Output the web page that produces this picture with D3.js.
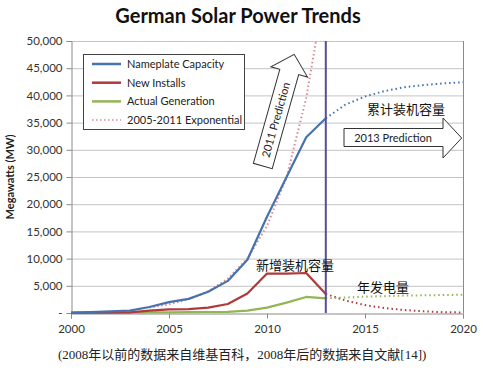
<!DOCTYPE html>
<html><head><meta charset="utf-8">
<script src="https://cdn.jsdelivr.net/npm/d3@7"></script>
<style>
html,body{margin:0;padding:0;background:#fff;}
svg text{font-family:Lato,"Open Sans",sans-serif;}
</style></head>
<body><svg id="c" width="483" height="382"></svg>
<script>
// ---- data ----
const years = [2000,2001,2002,2003,2004,2005,2006,2007,2008,2009,2010,2011,2012,2013];
const capacity = [80,180,290,430,1100,2000,2600,3900,5900,9800,17700,25000,32300,35800];
const newInstalls = [40,80,80,120,450,650,700,1000,1650,3600,7250,7250,7350,3500];
const generation = [20,30,50,70,100,120,150,180,200,450,1000,1900,2950,2700];
const projYears = [2013,2014,2015,2016,2017,2018,2019,2020];
const capacityProj = [35800,38300,39800,40800,41500,41900,42200,42400];
const installsProj = [3500,2300,1450,900,550,300,150,100];
const generationProj = [2700,2850,3000,3100,3200,3250,3300,3350];
const expYears = [2004,2005,2006,2007,2008,2009,2010,2011,2012,2012.5];
const expValues = [1000,1600,2500,4000,6300,10000,16000,25000,39500,50000];
const xTicks = [2000,2005,2010,2015,2020];
const yTicks = [0,5000,10000,15000,20000,25000,30000,35000,40000,45000,50000];
const legendLabels = ["Nameplate Capacity","New Installs","Actual Generation","2005-2011 Exponential"];
const markerYear = 2013;

const C = {blue:"#4672ad", red:"#b03a3a", green:"#93b556", pink:"#d98a95", purple:"#5a4c95"};

const svg = d3.select("#c");
const L=71, R=463, T=41, B=313;
const x = d3.scaleLinear().domain([2000,2020]).range([L,R]);
const y = d3.scaleLinear().domain([0,50000]).range([B,T]);

// title
svg.append("text").attr("x",238).attr("y",23).attr("text-anchor","middle")
  .attr("font-size",20).attr("font-weight","bold").attr("fill","#111").text("German Solar Power Trends");

// gridlines
svg.append("g").selectAll("line").data(yTicks.slice(1)).join("line")
  .attr("x1",L).attr("x2",R).attr("y1",d=>y(d)+0.5).attr("y2",d=>y(d)+0.5)
  .attr("stroke","#c4c4c4").attr("stroke-width",1);
// right border
svg.append("line").attr("x1",R+0.5).attr("x2",R+0.5).attr("y1",T).attr("y2",B)
  .attr("stroke","#8a8a8a");

// y axis
const fmt = d3.format(",");
const ya = svg.append("g").attr("transform",`translate(${L+0.5},0)`)
  .call(d3.axisLeft(y).tickValues(yTicks).tickSize(5).tickPadding(4).tickFormat(d=>d===0?"-":fmt(d)));
ya.select(".domain").attr("stroke","#8a8a8a");
ya.selectAll(".tick line").attr("stroke","#8a8a8a");
ya.selectAll("text").attr("font-size",11.5).attr("fill","#333").style("font-family","Lato,sans-serif");

// x axis
const xa = svg.append("g").attr("transform",`translate(0,${B+0.5})`)
  .call(d3.axisBottom(x).tickValues(xTicks).tickSize(5).tickPadding(6).tickFormat(d3.format("d")));
xa.select(".domain").attr("stroke","#8a8a8a");
xa.selectAll(".tick line").attr("stroke","#8a8a8a");
xa.selectAll("text").attr("font-size",11.5).attr("fill","#333").style("font-family","Lato,sans-serif");

// y label
svg.append("text").attr("transform","translate(14,177) rotate(-90)").attr("text-anchor","middle")
  .attr("font-size",11).attr("font-weight","bold").attr("fill","#222").text("Megawatts (MW)");

const line = d3.line().x(d=>x(d[0])).y(d=>y(d[1]));
const zip = (a,b)=>a.map((v,i)=>[v,b[i]]);

// exponential
svg.append("path").attr("d",line(zip(expYears,expValues))).attr("fill","none")
  .attr("stroke",C.pink).attr("stroke-width",2).attr("stroke-dasharray","1.5,2.5");

// projections
[[capacityProj,C.blue],[installsProj,C.red],[generationProj,C.green]].forEach(([v,c])=>{
  svg.append("path").attr("d",line(zip(projYears,v))).attr("fill","none")
    .attr("stroke",c).attr("stroke-width",2).attr("stroke-dasharray","1.5,3");
});
// actual series
[[generation,C.green],[newInstalls,C.red],[capacity,C.blue]].forEach(([v,c])=>{
  svg.append("path").attr("d",line(zip(years,v))).attr("fill","none")
    .attr("stroke",c).attr("stroke-width",2.2).attr("stroke-linejoin","round");
});

// marker line
svg.append("line").attr("x1",x(markerYear)).attr("x2",x(markerYear)).attr("y1",T).attr("y2",B)
  .attr("stroke",C.purple).attr("stroke-width",2);

// legend
const lg = svg.append("g");
lg.append("rect").attr("x",83.5).attr("y",54.5).attr("width",161).attr("height",75)
  .attr("fill","#fff").attr("stroke","#444").attr("stroke-width",1);
const lc=[C.blue,C.red,C.green,C.pink];
legendLabels.forEach((t,i)=>{
  const yy=64+i*18.7;
  lg.append("line").attr("x1",92).attr("x2",121).attr("y1",yy).attr("y2",yy)
    .attr("stroke",lc[i]).attr("stroke-width",i==3?1.5:2.5).attr("stroke-dasharray",i==3?"1.5,2.5":null);
  lg.append("text").attr("x",127).attr("y",yy+4).attr("font-size",11).attr("fill","#222").text(t);
});

// 2011 prediction arrow
const a1 = svg.append("g").attr("transform","translate(262.8,166) rotate(15.7)");
a1.append("path").attr("d","M-9.8,0 L-9.8,-97.7 L-19,-97.7 L0,-116 L19,-97.7 L9.8,-97.7 L9.8,0 Z")
  .attr("fill","#fff").attr("stroke","#333").attr("stroke-width",1);
a1.append("text").attr("transform","translate(4,-48) rotate(-90)").attr("text-anchor","middle")
  .attr("font-size",11).attr("fill","#222").text("2011 Prediction");

// 2013 prediction arrow
const a2 = svg.append("g");
a2.append("path").attr("d","M344,128.5 L443,128.5 L443,118 L461.7,138 L443,158 L443,146.5 L344,146.5 Z")
  .attr("fill","#fff").attr("stroke","#333").attr("stroke-width",1);
a2.append("text").attr("x",393).attr("y",141.5).attr("text-anchor","middle")
  .attr("font-size",11).attr("fill","#222").text("2013 Prediction");

// chinese annotations
const cj = "'Noto Sans CJK SC',sans-serif";
svg.append("text").attr("x",367).attr("y",114).attr("font-size",13).style("font-family",cj).attr("fill","#111").text("累计装机容量");
svg.append("text").attr("x",256).attr("y",270).attr("font-size",13).style("font-family",cj).attr("fill","#111").text("新增装机容量");
svg.append("text").attr("x",357).attr("y",292).attr("font-size",13).style("font-family",cj).attr("fill","#111").text("年发电量");

// footer
svg.append("text").attr("x",58).attr("y",359).attr("font-size",13)
  .style("font-family","'Liberation Serif','Noto Sans CJK SC',serif").attr("fill","#222")
  .text("(2008年以前的数据来自维基百科，2008年后的数据来自文献[14])");
</script></body></html>
